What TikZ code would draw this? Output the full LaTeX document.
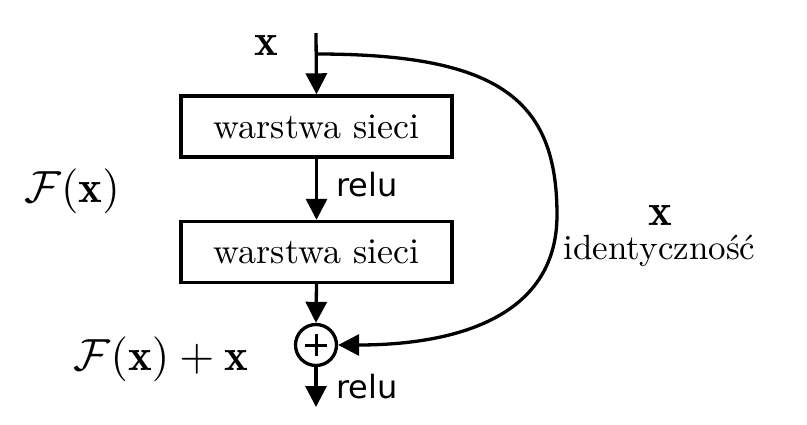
\documentclass[tikz,border=0pt]{standalone}
\usepackage{fontspec}
\newfontfamily\relufont{DejaVu Sans}
\newfontfamily\serfont{lmroman10-regular.otf}
\usetikzlibrary{arrows.meta}
\newcommand{\bigmath}[1]{\scalebox{4.5}{$#1$}}
\tikzset{
  layerbox/.style={draw, line width=3.4pt, minimum width=271pt, minimum height=61pt, inner sep=0pt,
    font=\serfont\fontsize{36}{42}\selectfont},
  arr/.style={line width=3.3pt, -{Triangle[length=21pt,width=21pt]}},
  relulbl/.style={anchor=base west, inner sep=0pt, font=\relufont\fontsize{32}{36}\selectfont},
  mathlbl/.style={anchor=base, inner sep=0pt},
  serlbl/.style={anchor=base, inner sep=0pt, font=\serfont\fontsize{35}{42}\selectfont},
}
\begin{document}
\begin{tikzpicture}[x=1pt, y=-1pt]
\useasboundingbox (0,0) rectangle (807,425);
\node[layerbox] (l1) at (316.5,126.5) {warstwa sieci};
\node[layerbox] (l2) at (316.5,252) {warstwa sieci};
\node[draw, circle, line width=3.3pt, minimum size=41pt, inner sep=0pt] (sum) at (316,345) {};
\draw[line width=3pt] ([xshift=-11pt]sum.center) -- ([xshift=11pt]sum.center);
\draw[line width=3pt] ([yshift=-11pt]sum.center) -- ([yshift=11pt]sum.center);
\coordinate (in) at (316,33);
\coordinate (split) at (316,54);
\coordinate (bend) at (557,215);
\coordinate (out) at (316,407);
\draw[arr] (in) -- (l1.north);
\draw[arr] (l1.south) -- (l2.north);
\draw[arr] (l2.south) -- (sum.north);
\draw[arr] (sum.south) -- (out);
\draw[arr] (split) .. controls (500,54) and (557,100) .. (bend) .. controls (557,320) and (450,345) .. (sum.east);
\node[mathlbl] (xin) at (266,56) {\bigmath{\mathbf{x}}};
\node[relulbl] (r1) at (336,197) {relu};
\node[relulbl] (r2) at (336,398) {relu};
\node[mathlbl] (fx) at (72,203) {\bigmath{\mathcal{F}(\mathbf{x})}};
\node[mathlbl] (fxx) at (161,370) {\bigmath{\mathcal{F}(\mathbf{x})+\mathbf{x}}};
\node[mathlbl] (xid) at (660,226) {\bigmath{\mathbf{x}}};
\node[serlbl] (id) at (659.5,260) {identyczność};
\end{tikzpicture}
\end{document}
